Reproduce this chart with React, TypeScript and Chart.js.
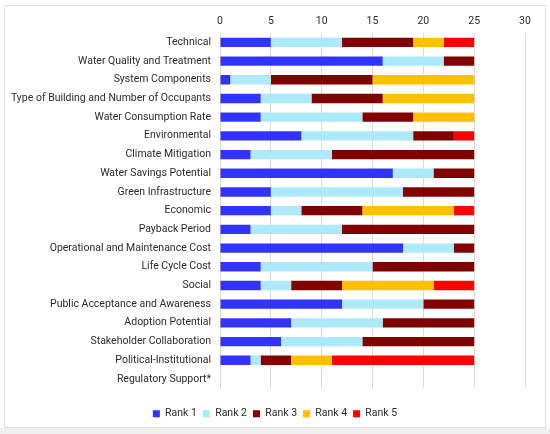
import React, { useEffect, useRef } from "react";
import { Chart, registerables } from "chart.js";

Chart.register(...registerables);

const categories = [
    "Technical",
    "Water Quality and Treatment",
    "System Components",
    "Type of Building and Number of Occupants",
    "Water Consumption Rate",
    "Environmental",
    "Climate Mitigation",
    "Water Savings Potential",
    "Green Infrastructure",
    "Economic",
    "Payback Period",
    "Operational and Maintenance Cost",
    "Life Cycle Cost",
    "Social",
    "Public Acceptance and Awareness",
    "Adoption Potential",
    "Stakeholder Collaboration",
    "Political-Institutional",
    "Regulatory Support*",
];

const rank1 = [5, 16, 1, 4, 4, 8, 3, 17, 5, 5, 3, 18, 4, 4, 12, 7, 6, 3, 0];
const rank2 = [7, 6, 4, 5, 10, 11, 8, 4, 13, 3, 9, 5, 11, 3, 8, 9, 8, 1, 0];
const rank3 = [7, 3, 10, 7, 5, 4, 14, 4, 7, 6, 13, 2, 10, 5, 5, 9, 11, 3, 0];
const rank4 = [3, 0, 10, 9, 6, 0, 0, 0, 0, 9, 0, 0, 0, 9, 0, 0, 0, 4, 0];
const rank5 = [3, 0, 0, 0, 0, 2, 0, 0, 0, 2, 0, 0, 0, 4, 0, 0, 0, 14, 0];

const xTicks = [0, 5, 10, 15, 20, 25, 30];

const seriesNames = ["Rank 1", "Rank 2", "Rank 3", "Rank 4", "Rank 5"];
const seriesColors = ["#3333ff", "#aee8fb", "#800000", "#ffc000", "#ff0000"];

const FONT = "Roboto, sans-serif";
const TEXT = "#2b2b2b";

// the legend should be centred on the whole canvas, not on the padded box
const centreLegend = {
    id: "centreLegend",
    afterLayout(chart: any) {
        if (chart.legend) {
            chart.legend.left = 0;
            chart.legend.right = chart.width;
            chart.legend.width = chart.width;
        }
    },
};

const App: React.FC = () => {
    const canvasRef = useRef<HTMLCanvasElement>(null);

    useEffect(() => {
        if (!canvasRef.current) return;
        const ctx = canvasRef.current.getContext("2d");
        if (!ctx) return;

        const values = [rank1, rank2, rank3, rank4, rank5];

        const chart = new Chart(ctx, {
            type: "bar",
            data: {
                labels: categories,
                datasets: values.map((d, i) => ({
                    label: seriesNames[i],
                    data: d,
                    backgroundColor: seriesColors[i],
                    borderWidth: 0,
                    barPercentage: 0.5,
                    categoryPercentage: 1,
                })),
            },
            plugins: [centreLegend],
            options: {
                indexAxis: "y",
                animation: false,
                responsive: true,
                maintainAspectRatio: false,
                layout: {
                    padding: { left: 0, right: 25, top: 0, bottom: 5 },
                },
                plugins: {
                    legend: {
                        position: "bottom",
                        title: {
                            display: true,
                            text: " ",
                            padding: { top: 13, bottom: 0 },
                            font: { size: 1 },
                        },
                        labels: {
                            boxWidth: 7,
                            boxHeight: 7,
                            padding: 6,
                            color: TEXT,
                            font: { family: FONT, size: 10.5 },
                        },
                    },
                    tooltip: { enabled: false },
                },
                scales: {
                    x: {
                        position: "top",
                        stacked: true,
                        min: 0,
                        max: 30,
                        afterBuildTicks: (scale: any) => {
                            scale.ticks = xTicks.map((v) => ({ value: v }));
                        },
                        afterFit: (scale: any) => {
                            scale.height = 33;
                        },
                        grid: {
                            color: "#d9d9d9",
                            drawTicks: false,
                        },
                        border: { display: false },
                        ticks: {
                            padding: 5,
                            color: TEXT,
                            font: { family: FONT, size: 10.5 },
                        },
                    },
                    y: {
                        stacked: true,
                        afterFit: (scale: any) => {
                            scale.width = 220;
                        },
                        grid: { display: false, drawTicks: false },
                        border: { display: false },
                        ticks: {
                            padding: 9,
                            color: TEXT,
                            autoSkip: false,
                            font: { family: FONT, size: 10.5 },
                        },
                    },
                },
            },
        });

        return () => {
            chart.destroy();
        };
    }, []);

    return (
        <div style={{ position: "fixed", left: 0, top: 0, width: 550, height: 434, background: "#fff" }}>
            <div
                style={{
                    position: "absolute",
                    left: 0,
                    top: 428,
                    width: 550,
                    height: 6,
                    background: "#f0f0f0",
                }}
            />
            <div
                style={{
                    position: "absolute",
                    left: 4,
                    top: 5,
                    width: 540,
                    height: 421,
                    border: "1px solid #e0e0e0",
                }}
            />
            <div style={{ position: "absolute", left: 0, top: 0, width: 550, height: 434 }}>
                <canvas ref={canvasRef}></canvas>
            </div>
        </div>
    );
};

export default App;
